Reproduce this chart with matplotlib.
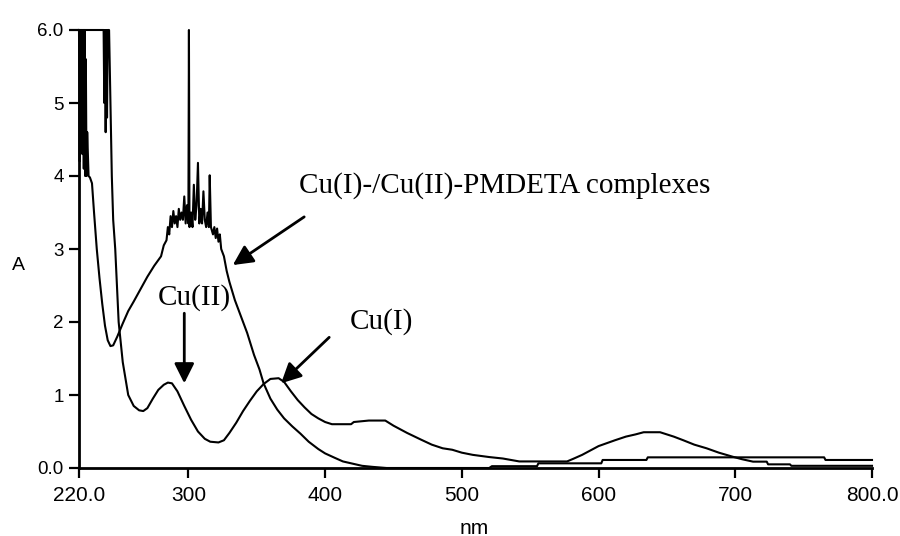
import matplotlib
matplotlib.use("Agg")
import matplotlib.pyplot as plt

# ---- data ----
# Mixed Cu(I)-/Cu(II)-PMDETA complexes spectrum
mix_nm = [220, 220.5, 221, 221.5, 222, 222.5, 223, 223.5, 224, 224.5, 225, 225.5, 226,
          227, 228, 229.5, 231, 233, 235, 237, 239, 241, 243, 245, 248, 252, 256, 260,
          265, 270, 275, 280, 282, 284, 285, 286, 287, 288, 289, 290, 291, 292, 293,
          294, 295, 296, 297, 298, 299, 300, 300.4, 300.8, 302, 303, 304, 305, 306,
          307, 308, 309, 310, 311, 312, 313, 314, 315, 315.6, 316.5, 318, 319, 320,
          321, 322, 323, 324, 326, 328, 330, 334, 338, 343, 348, 352, 355, 360, 365,
          370, 376, 382, 388, 395, 400, 407, 413, 420, 427, 435, 445, 520, 522, 555,
          556, 602, 603, 635, 636, 765, 766, 800]
mix_A = [6.0, 4.2, 6.0, 4.5, 6.0, 4.3, 6.0, 4.1, 6.0, 4.0, 5.6, 4.0, 4.6,
         4.0, 3.98, 3.9, 3.5, 3.0, 2.6, 2.25, 1.95, 1.75, 1.67, 1.68, 1.8, 1.98, 2.15, 2.28,
         2.45, 2.62, 2.77, 2.9, 3.05, 3.12, 3.3, 3.2, 3.45, 3.3, 3.52, 3.35, 3.45, 3.3, 3.55,
         3.4, 3.5, 3.4, 3.72, 3.35, 3.6, 3.35, 6.0, 3.3, 3.5, 3.3, 3.88, 3.4, 3.6,
         4.18, 3.35, 3.55, 3.35, 3.79, 3.4, 3.3, 3.5, 3.3, 4.01, 3.3, 3.2, 3.3, 3.15,
         3.28, 3.1, 3.2, 3.0, 2.9, 2.7, 2.55, 2.3, 2.1, 1.85, 1.55, 1.35, 1.16, 0.95, 0.8,
         0.68, 0.57, 0.47, 0.36, 0.26, 0.2, 0.14, 0.09, 0.06, 0.03, 0.015, 0.0, 0.0, 0.025, 0.025,
         0.064, 0.064, 0.11, 0.11, 0.146, 0.146, 0.11, 0.11]

# Cu(II)/Cu(I) spectrum (bands at ~285, ~365, ~435 and ~640 nm)
cu_nm = [220, 228, 230, 238, 238.5, 239, 239.5, 240, 240.5, 241, 242, 243, 244, 245,
         246.5, 249, 252, 256, 260, 264, 267, 270, 274, 278, 282, 285, 288, 292, 297,
         302, 307, 312, 316, 322, 326, 330, 335, 340, 345, 350, 355, 360, 366, 370,
         375, 380, 385, 390, 395, 400, 405, 419, 421, 432, 444, 450, 460, 470, 478,
         486, 493, 500, 508, 520, 530, 542, 577, 582, 588, 595, 600, 606, 612, 620,
         627, 633, 645, 655, 662, 670, 679, 688, 698, 705, 713, 723, 724, 740, 741, 800]
cu_A = [6.0, 6.0, 6.0, 6.0, 5.0, 6.0, 4.6, 6.0, 4.8, 6.0, 6.0, 5.0, 4.0, 3.4,
        3.0, 2.0, 1.45, 1.0, 0.85, 0.79, 0.78, 0.82, 0.95, 1.07, 1.14, 1.17, 1.16, 1.05, 0.85,
        0.66, 0.5, 0.4, 0.36, 0.35, 0.38, 0.48, 0.62, 0.78, 0.92, 1.05, 1.15, 1.22, 1.23, 1.18,
        1.05, 0.93, 0.83, 0.74, 0.68, 0.63, 0.6, 0.6, 0.63, 0.65, 0.65, 0.58, 0.48, 0.39, 0.32,
        0.27, 0.25, 0.21, 0.18, 0.15, 0.13, 0.09, 0.09, 0.13, 0.18, 0.25, 0.3, 0.34, 0.38, 0.43,
        0.46, 0.49, 0.49, 0.43, 0.38, 0.32, 0.27, 0.21, 0.155, 0.12, 0.087, 0.087, 0.05, 0.05, 0.03, 0.03]

x_ticks = [220, 300, 400, 500, 600, 700, 800]
x_ticklabels = ["220.0", "300", "400", "500", "600", "700", "800.0"]
y_ticks = [0, 1, 2, 3, 4, 5, 6]
y_ticklabels = ["0.0", "1", "2", "3", "4", "5", "6.0"]

# ---- figure ----
fig = plt.figure(figsize=(9, 5.36), dpi=100)
ax = fig.add_axes([79 / 900, 1 - 468 / 536, (872 - 79) / 900, (468 - 30) / 536])

ax.plot(mix_nm, mix_A, color="black", lw=1.5, clip_on=False)
ax.plot(cu_nm, cu_A, color="black", lw=1.5, clip_on=False)

ax.set_xlim(220, 800)
ax.set_ylim(0, 6)
ax.set_xticks(x_ticks)
ax.set_xticklabels(x_ticklabels, fontsize=15, family="Liberation Sans")
ax.set_yticks(y_ticks)
ax.set_yticklabels(y_ticklabels, fontsize=13.5, family="Liberation Sans")
ax.tick_params(axis="both", direction="out", length=7, width=1.6, pad=4)
ax.tick_params(axis="x", pad=6)

for s in ("top", "right"):
    ax.spines[s].set_visible(False)
for s in ("left", "bottom"):
    ax.spines[s].set_linewidth(2)

fig.text(18 / 900, 1 - 265 / 536, "A", fontsize=14, family="Liberation Sans",
         ha="center", va="center")
fig.text(474 / 900, 1 - 528 / 536, "nm", fontsize=15, family="Liberation Sans",
         ha="center", va="center")

serif = "Liberation Serif"
arrow = dict(arrowstyle="-|>", mutation_scale=30, lw=2, color="black",
             shrinkA=0, shrinkB=0)

ax.annotate("", xy=(332.5, 2.78), xytext=(384.7, 3.44), arrowprops=arrow)
ax.text(381, 3.87, "Cu(I)-/Cu(II)-PMDETA complexes", fontsize=21, family=serif,
        ha="left", va="center")

ax.annotate("", xy=(297, 1.16), xytext=(297, 2.12), arrowprops=arrow)
ax.text(304, 2.34, "Cu(II)", fontsize=21, family=serif, ha="center", va="center")

ax.annotate("", xy=(367.8, 1.16), xytext=(403, 1.79), arrowprops=arrow)
ax.text(441, 2.0, "Cu(I)", fontsize=21, family=serif, ha="center", va="center")

fig.savefig("out.png", dpi=100)
